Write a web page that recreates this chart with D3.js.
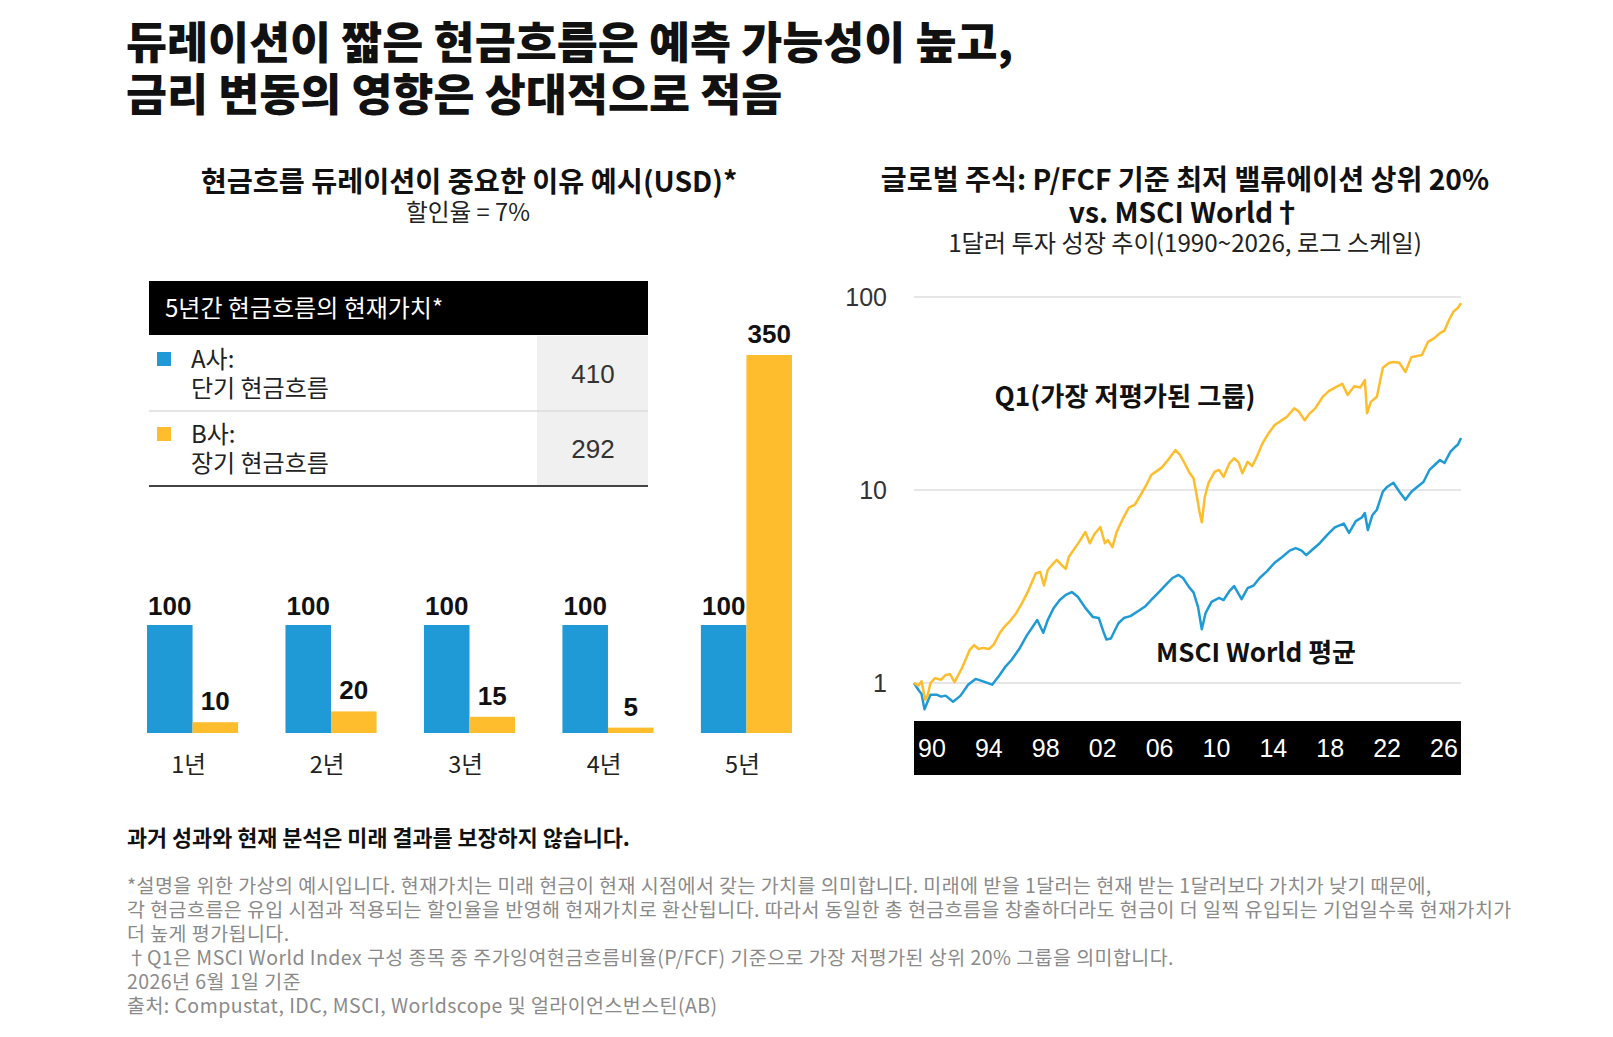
<!DOCTYPE html>
<html>
<head>
<meta charset="utf-8">
<script src="https://cdn.jsdelivr.net/npm/d3@7"></script>
<style>
  body { margin: 0; background: #fff; }
  text { font-family: "Noto Sans CJK KR", "Noto Sans", sans-serif; }
  .num { font-family: "Liberation Sans", Arial, sans-serif; }
</style>
</head>
<body>
<script>
// ---- data ----
var titleLines = ["듀레이션이 짧은 현금흐름은 예측 가능성이 높고,", "금리 변동의 영향은 상대적으로 적음"];

// left: cash flow per year
var years = ["1년", "2년", "3년", "4년", "5년"];
var companyA = [100, 100, 100, 100, 100];
var companyB = [10, 20, 15, 5, 350];

// present value table
var pvNames = ["A사:", "B사:"];
var pvSubs = ["단기 현금흐름", "장기 현금흐름"];
var pvValues = [410, 292];

// right: growth of $1 (log scale)
var q1Years = [1990.0, 1990.3, 1990.5, 1990.75, 1990.9, 1991.1, 1991.4, 1991.8, 1992.1, 1992.4, 1992.7, 1993.2, 1993.7, 1994.0, 1994.3, 1994.6, 1995.0, 1995.3, 1995.7, 1996.0, 1996.4, 1996.8, 1997.2, 1997.6, 1998.1, 1998.4, 1998.65, 1998.9, 1999.2, 1999.5, 1999.8, 2000.1, 2000.3, 2000.7, 2001.0, 2001.4, 2001.7, 2002.0, 2002.4, 2002.7, 2002.9, 2003.2, 2003.5, 2003.9, 2004.3, 2004.7, 2005.0, 2005.4, 2005.8, 2006.2, 2006.5, 2006.9, 2007.4, 2007.7, 2008.0, 2008.3, 2008.6, 2008.8, 2009.0, 2009.15, 2009.35, 2009.6, 2010.0, 2010.3, 2010.6, 2011.0, 2011.3, 2011.6, 2011.85, 2012.2, 2012.5, 2012.8, 2013.2, 2013.6, 2014.0, 2014.4, 2014.8, 2015.3, 2015.6, 2016.0, 2016.3, 2016.7, 2017.2, 2017.6, 2018.1, 2018.5, 2018.85, 2019.3, 2019.7, 2020.0, 2020.15, 2020.4, 2020.8, 2021.2, 2021.6, 2021.9, 2022.3, 2022.7, 2023.1, 2023.5, 2023.8, 2024.2, 2024.6, 2025.0, 2025.3, 2025.6, 2025.9, 2026.2, 2026.4];
var q1Values = [1.00, 0.97, 1.02, 0.82, 0.86, 1.00, 1.06, 1.04, 1.10, 1.11, 1.01, 1.20, 1.48, 1.57, 1.50, 1.52, 1.50, 1.58, 1.81, 1.95, 2.10, 2.30, 2.60, 3.00, 3.70, 3.76, 3.20, 3.85, 4.10, 4.34, 4.10, 3.90, 4.50, 5.00, 5.40, 6.06, 5.30, 5.90, 6.43, 5.30, 5.50, 5.06, 6.10, 7.10, 8.10, 8.40, 9.20, 10.4, 12.0, 12.6, 13.1, 14.3, 16.1, 15.2, 13.8, 12.4, 11.5, 9.5, 7.7, 6.8, 9.2, 10.9, 12.4, 12.7, 11.7, 13.8, 14.6, 13.9, 12.2, 14.0, 13.3, 14.8, 17.5, 19.7, 21.7, 22.8, 23.9, 26.5, 25.5, 23.0, 24.8, 26.5, 30.4, 32.5, 34.2, 35.5, 31.1, 34.5, 34.0, 37.1, 25.0, 28.6, 30.4, 43.0, 45.5, 46.0, 45.6, 40.9, 48.8, 49.5, 50.0, 58.5, 61.0, 65.0, 67.0, 76.0, 84.0, 88.0, 93.0];

var msciYears = [1990.0, 1990.3, 1990.5, 1990.7, 1990.9, 1991.1, 1991.5, 1991.8, 1992.1, 1992.6, 1993.1, 1993.6, 1994.1, 1994.6, 1995.2, 1995.7, 1996.1, 1996.5, 1997.0, 1997.5, 1998.2, 1998.6, 1998.9, 1999.3, 1999.7, 2000.1, 2000.5, 2000.9, 2001.4, 2001.9, 2002.3, 2002.6, 2002.8, 2003.1, 2003.6, 2004.0, 2004.4, 2005.0, 2005.4, 2005.8, 2006.3, 2006.8, 2007.2, 2007.6, 2007.9, 2008.3, 2008.6, 2008.9, 2009.15, 2009.4, 2009.8, 2010.3, 2010.6, 2011.0, 2011.3, 2011.8, 2012.2, 2012.6, 2013.0, 2013.5, 2014.0, 2014.5, 2015.0, 2015.4, 2015.8, 2016.1, 2016.5, 2017.0, 2017.5, 2018.0, 2018.6, 2018.95, 2019.4, 2019.8, 2020.0, 2020.2, 2020.5, 2020.8, 2021.2, 2021.5, 2021.9, 2022.3, 2022.7, 2023.1, 2023.5, 2023.9, 2024.3, 2024.7, 2025.0, 2025.3, 2025.7, 2026.0, 2026.2, 2026.4];
var msciValues = [1.00, 0.92, 0.88, 0.73, 0.80, 0.87, 0.87, 0.85, 0.86, 0.80, 0.86, 0.98, 1.05, 1.02, 0.98, 1.10, 1.22, 1.32, 1.50, 1.76, 2.12, 1.82, 2.12, 2.45, 2.69, 2.86, 2.96, 2.80, 2.45, 2.20, 2.17, 1.85, 1.68, 1.70, 2.04, 2.18, 2.22, 2.38, 2.50, 2.70, 2.96, 3.25, 3.50, 3.63, 3.50, 3.14, 2.95, 2.48, 1.90, 2.30, 2.63, 2.76, 2.69, 3.00, 3.18, 2.72, 3.10, 3.20, 3.50, 3.80, 4.20, 4.50, 4.85, 5.00, 4.85, 4.60, 4.90, 5.30, 5.85, 6.40, 6.70, 6.00, 6.90, 7.20, 7.60, 6.20, 7.40, 7.90, 9.80, 10.4, 10.9, 9.80, 8.90, 9.80, 10.4, 11.0, 12.7, 13.6, 14.3, 13.8, 15.8, 16.7, 17.2, 18.6];

var yTicks = [1, 10, 100];
var xTickLabels = ["90", "94", "98", "02", "06", "10", "14", "18", "22", "26"];

var footLines = [
    "*설명을 위한 가상의 예시입니다. 현재가치는 미래 현금이 현재 시점에서 갖는 가치를 의미합니다. 미래에 받을 1달러는 현재 받는 1달러보다 가치가 낮기 때문에,",
    "각 현금흐름은 유입 시점과 적용되는 할인율을 반영해 현재가치로 환산됩니다. 따라서 동일한 총 현금흐름을 창출하더라도 현금이 더 일찍 유입되는 기업일수록 현재가치가",
    "더 높게 평가됩니다.",
    " †Q1은 MSCI World Index 구성 종목 중 주가잉여현금흐름비율(P/FCF) 기준으로 가장 저평가된 상위 20% 그룹을 의미합니다.",
    "2026년 6월 1일 기준",
    "출처: Compustat, IDC, MSCI, Worldscope 및 얼라이언스번스틴(AB)"
];

var BLUE = "#1f9ad6";
var YELLOW = "#fdbd2c";

function draw(){
    var svg = d3.select("body")
        .append("svg")
        .attr("width", 1613)
        .attr("height", 1037);

    // main title
    svg.selectAll(".title")
        .data(titleLines)
        .enter()
        .append("text")
        .attr("class", "title")
        .attr("x", 126)
        .attr("y", function(d, i){ return 59 + i * 52; })
        .attr("font-size", 44.6)
        .attr("font-weight", 900)
        .attr("fill", "#111")
        .text(function(d){ return d; });

    // ---------- left panel ----------
    svg.append("text")
        .attr("x", 469).attr("y", 192)
        .attr("text-anchor", "middle")
        .attr("font-size", 28.3).attr("font-weight", 700).attr("fill", "#111")
        .text("현금흐름 듀레이션이 중요한 이유 예시(USD)*");
    svg.append("text")
        .attr("x", 468).attr("y", 221)
        .attr("text-anchor", "middle")
        .attr("font-size", 23.7).attr("fill", "#222")
        .text("할인율 = 7%");

    // table
    var table = svg.append("g");
    table.append("rect")
        .attr("x", 149).attr("y", 281).attr("width", 499).attr("height", 54)
        .attr("fill", "#000");
    table.append("text")
        .attr("x", 165).attr("y", 317)
        .attr("font-size", 24).attr("fill", "#fff")
        .text("5년간 현금흐름의 현재가치*");
    table.append("rect")
        .attr("x", 537).attr("y", 336).attr("width", 111).attr("height", 149)
        .attr("fill", "#f0f0f0");

    var rowY = d3.scaleBand().domain(pvNames).range([336, 486]);
    var rows = table.selectAll(".row")
        .data(pvNames)
        .enter()
        .append("g")
        .attr("class", "row")
        .attr("transform", function(d){ return "translate(0," + rowY(d) + ")"; });
    rows.append("rect")
        .attr("x", 157).attr("y", 16).attr("width", 14).attr("height", 14)
        .attr("fill", function(d, i){ return i === 0 ? BLUE : YELLOW; });
    rows.append("text")
        .attr("x", 191).attr("y", 32)
        .attr("font-size", 24).attr("fill", "#222")
        .text(function(d){ return d; });
    rows.append("text")
        .attr("x", 191).attr("y", 61)
        .attr("font-size", 24).attr("fill", "#222")
        .text(function(d, i){ return pvSubs[i]; });
    rows.append("text")
        .attr("class", "num")
        .attr("x", 593).attr("y", 47)
        .attr("text-anchor", "middle")
        .attr("font-size", 26).attr("fill", "#333")
        .text(function(d, i){ return pvValues[i]; });
    table.append("line")
        .attr("x1", 149).attr("x2", 648).attr("y1", rowY(pvNames[1])).attr("y2", rowY(pvNames[1]))
        .attr("stroke", "#dcdcdc").attr("stroke-width", 1.5);
    table.append("line")
        .attr("x1", 149).attr("x2", 648).attr("y1", 486).attr("y2", 486)
        .attr("stroke", "#444").attr("stroke-width", 2);

    // bars
    var x0 = d3.scaleBand().domain(years).range([147, 792]).paddingInner(0.342);
    var x1 = d3.scaleBand().domain(["A", "B"]).range([0, x0.bandwidth()]);
    var yBar = d3.scaleLinear().domain([0, 350]).range([733, 355]);

    var groups = svg.selectAll(".grp")
        .data(years)
        .enter()
        .append("g")
        .attr("class", "grp")
        .attr("transform", function(d){ return "translate(" + x0(d) + ",0)"; });

    groups.append("rect")
        .attr("x", x1("A")).attr("width", x1.bandwidth())
        .attr("y", function(d, i){ return yBar(companyA[i]); })
        .attr("height", function(d, i){ return yBar(0) - yBar(companyA[i]); })
        .attr("fill", BLUE);
    groups.append("rect")
        .attr("x", x1("B")).attr("width", x1.bandwidth())
        .attr("y", function(d, i){ return yBar(companyB[i]); })
        .attr("height", function(d, i){ return yBar(0) - yBar(companyB[i]); })
        .attr("fill", YELLOW);

    groups.append("text")
        .attr("class", "num")
        .attr("x", x1("A") + x1.bandwidth() / 2)
        .attr("y", function(d, i){ return yBar(companyA[i]) - 10; })
        .attr("text-anchor", "middle")
        .attr("font-size", 26).attr("font-weight", 700).attr("fill", "#111")
        .text(function(d, i){ return companyA[i]; });
    groups.append("text")
        .attr("class", "num")
        .attr("x", x1("B") + x1.bandwidth() / 2)
        .attr("y", function(d, i){ return yBar(companyB[i]) - 12; })
        .attr("text-anchor", "middle")
        .attr("font-size", 26).attr("font-weight", 700).attr("fill", "#111")
        .text(function(d, i){ return companyB[i]; });
    groups.append("text")
        .attr("x", x0.bandwidth() / 2 - 4)
        .attr("y", 773)
        .attr("text-anchor", "middle")
        .attr("font-size", 23.5).attr("fill", "#222")
        .text(function(d){ return d; });

    // ---------- right panel ----------
    var rTitle = ["글로벌 주식: P/FCF 기준 최저 밸류에이션 상위 20%", "vs. MSCI World†"];
    svg.selectAll(".rtitle")
        .data(rTitle)
        .enter()
        .append("text")
        .attr("class", "rtitle")
        .attr("x", 1185)
        .attr("y", function(d, i){ return 190 + i * 33; })
        .attr("text-anchor", "middle")
        .attr("font-size", 28.2).attr("font-weight", 700).attr("fill", "#111")
        .text(function(d){ return d; });
    svg.append("text")
        .attr("x", 1185).attr("y", 252)
        .attr("text-anchor", "middle")
        .attr("font-size", 24.2).attr("fill", "#222")
        .text("1달러 투자 성장 추이(1990~2026, 로그 스케일)");

    var xLine = d3.scaleLinear().domain([1990, 2026.4]).range([914, 1461]);
    var yLine = d3.scaleLog().domain([1, 100]).range([683, 297]);

    svg.selectAll(".grid")
        .data(yTicks)
        .enter()
        .append("line")
        .attr("class", "grid")
        .attr("x1", 914).attr("x2", 1461)
        .attr("y1", function(d){ return yLine(d); })
        .attr("y2", function(d){ return yLine(d); })
        .attr("stroke", "#dedede").attr("stroke-width", 1.5);
    svg.selectAll(".ylab")
        .data(yTicks)
        .enter()
        .append("text")
        .attr("class", "ylab num")
        .attr("x", 887)
        .attr("y", function(d){ return yLine(d); })
        .attr("dy", "0.36em")
        .attr("text-anchor", "end")
        .attr("font-size", 25).attr("fill", "#333")
        .text(function(d){ return d; });

    var line = d3.line()
        .x(function(d){ return xLine(d[0]); })
        .y(function(d){ return yLine(d[1]); });

    svg.append("path")
        .datum(d3.zip(msciYears, msciValues))
        .attr("d", line)
        .attr("fill", "none").attr("stroke", BLUE).attr("stroke-width", 2.5)
        .attr("stroke-linejoin", "round");
    svg.append("path")
        .datum(d3.zip(q1Years, q1Values))
        .attr("d", line)
        .attr("fill", "none").attr("stroke", YELLOW).attr("stroke-width", 2.5)
        .attr("stroke-linejoin", "round");

    svg.append("text")
        .attr("x", 1125).attr("y", 406)
        .attr("text-anchor", "middle")
        .attr("font-size", 26.3).attr("font-weight", 700).attr("fill", "#111")
        .text("Q1(가장 저평가된 그룹)");
    svg.append("text")
        .attr("x", 1256).attr("y", 662)
        .attr("text-anchor", "middle")
        .attr("font-size", 26).attr("font-weight", 700).attr("fill", "#111")
        .text("MSCI World 평균");

    // black year band
    svg.append("rect")
        .attr("x", 914).attr("y", 721).attr("width", 547).attr("height", 54)
        .attr("fill", "#000");
    var xBand = d3.scalePoint().domain(xTickLabels).range([932, 1444]);
    svg.selectAll(".xlab")
        .data(xTickLabels)
        .enter()
        .append("text")
        .attr("class", "xlab num")
        .attr("x", function(d){ return xBand(d); })
        .attr("y", 748)
        .attr("dy", "0.36em")
        .attr("text-anchor", "middle")
        .attr("font-size", 25).attr("fill", "#fff")
        .text(function(d){ return d; });

    // ---------- footer ----------
    svg.append("text")
        .attr("x", 127).attr("y", 846)
        .attr("font-size", 21.8).attr("font-weight", 700).attr("fill", "#111")
        .text("과거 성과와 현재 분석은 미래 결과를 보장하지 않습니다.");
    svg.selectAll(".foot")
        .data(footLines)
        .enter()
        .append("text")
        .attr("class", "foot")
        .attr("x", 127)
        .attr("y", function(d, i){ return 893 + i * 24; })
        .attr("font-size", 19.5)
        .attr("letter-spacing", 0.45)
        .attr("fill", "#8a8a8a")
        .text(function(d){ return d; });
}

window.onload = draw;
</script>
</body>
</html>
